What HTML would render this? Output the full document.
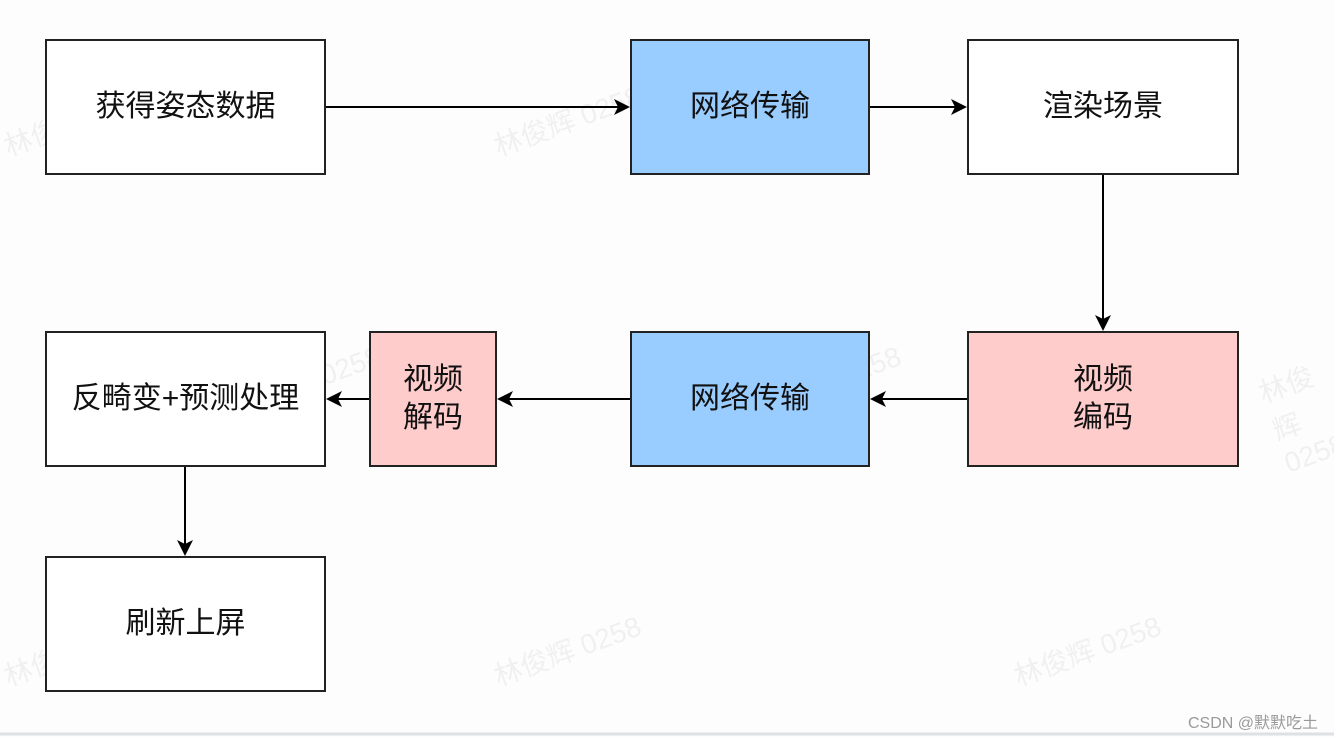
<!DOCTYPE html>
<html><head><meta charset="utf-8"><style>
body{margin:0;width:1334px;height:738px;background:#fdfdfd;position:relative;overflow:hidden;font-family:"Liberation Sans","Noto Sans CJK SC",sans-serif}
.b{position:absolute;box-sizing:border-box;border:2px solid #222;display:flex;align-items:center;justify-content:center;text-align:center;font-size:30px;line-height:38px;color:#111;background:#fff}
.bl{background:#99ccff}.pk{background:#ffcccc}
svg{position:absolute;left:0;top:0}
.wm{position:absolute;color:rgba(0,0,0,0.05);font-size:28px;transform:rotate(-20deg)}
</style></head><body>
<div class="wm" style="left:0;top:100px">林俊辉 0258</div>
<div class="wm" style="left:490px;top:100px">林俊辉 0258</div>
<div class="wm" style="left:1010px;top:100px">林俊辉 0258</div>
<div class="wm" style="left:230px;top:360px">林俊辉 0258</div>
<div class="wm" style="left:750px;top:360px">林俊辉 0258</div>
<div class="wm" style="left:1270px;top:360px">林俊辉 0258</div>
<div class="wm" style="left:0;top:630px">林俊辉 0258</div>
<div class="wm" style="left:490px;top:630px">林俊辉 0258</div>
<div class="wm" style="left:1010px;top:630px">林俊辉 0258</div>
<div class="b" style="left:45px;top:39px;width:281px;height:136px">获得姿态数据</div>
<div class="b bl" style="left:630px;top:39px;width:240px;height:136px">网络传输</div>
<div class="b" style="left:967px;top:39px;width:272px;height:136px">渲染场景</div>
<div class="b pk" style="left:967px;top:331px;width:272px;height:136px">视频<br>编码</div>
<div class="b bl" style="left:630px;top:331px;width:240px;height:136px">网络传输</div>
<div class="b pk" style="left:369px;top:331px;width:128px;height:136px">视频<br>解码</div>
<div class="b" style="left:45px;top:331px;width:281px;height:136px">反畸变+预测处理</div>
<div class="b" style="left:45px;top:556px;width:281px;height:136px">刷新上屏</div>
<svg width="1334" height="738">
<g stroke="#000" stroke-width="2" fill="none">
<line x1="326" y1="107" x2="620" y2="107"/>
<line x1="870" y1="107" x2="957" y2="107"/>
<line x1="1103" y1="175" x2="1103" y2="321"/>
<line x1="967" y1="399" x2="880" y2="399"/>
<line x1="630" y1="399" x2="507" y2="399"/>
<line x1="369" y1="399" x2="336" y2="399"/>
<line x1="185" y1="467" x2="185" y2="546"/>
</g>
<g fill="#000">
<polygon points="630,107 614,99 618,107 614,115"/>
<polygon points="967,107 951,99 955,107 951,115"/>
<polygon points="1103,331 1095,315 1103,319 1111,315"/>
<polygon points="870,399 886,391 882,399 886,407"/>
<polygon points="497,399 513,391 509,399 513,407"/>
<polygon points="326,399 342,391 338,399 342,407"/>
<polygon points="185,556 177,540 185,544 193,540"/>
</g>
<line x1="0" y1="734" x2="1334" y2="734" stroke="#dde0e4" stroke-width="3"/>
</svg>
<div style="position:absolute;right:16px;top:709px;font-size:16px;color:#999">CSDN @默默吃土</div>
</body></html>
